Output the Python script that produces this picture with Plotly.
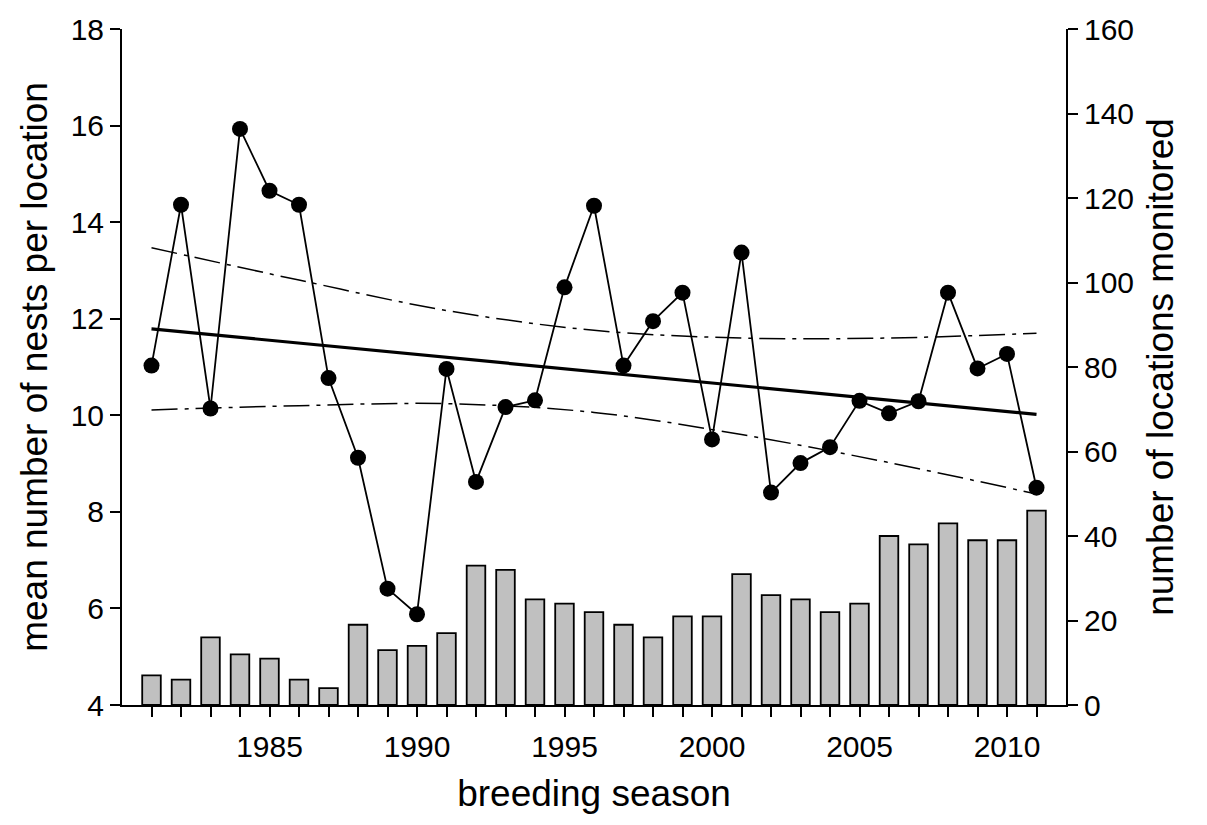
import plotly.graph_objects as go

years = list(range(1981, 2012))
locations = [7, 6, 16, 12, 11, 6, 4, 19, 13, 14, 17, 33, 32, 25, 24, 22, 19, 16, 21, 21,
             31, 26, 25, 22, 24, 40, 38, 43, 39, 39, 46]
nests = [11.03, 14.36, 10.14, 15.93, 14.65, 14.36, 10.77, 9.12, 6.41, 5.88, 10.96, 8.62,
         10.17, 10.31, 12.65, 14.34, 11.03, 11.95, 12.54, 9.50, 13.37, 8.40, 9.01, 9.34,
         10.30, 10.04, 10.29, 12.54, 10.97, 11.27, 8.50]
trend_years = [1981, 2011]
trend_vals = [11.79, 10.02]
band_years = [1981, 1986, 1991, 1996, 2001, 2006, 2011]
band_upper = [13.47, 12.80, 12.17, 11.76, 11.60, 11.60, 11.70]
band_lower = [10.11, 10.20, 10.24, 10.06, 9.60, 9.02, 8.37]
labelled_years = [1985, 1990, 1995, 2000, 2005, 2010]

FONT = "Liberation Sans, Arial, sans-serif"
TICK = 30
TITLE = 37

fig = go.Figure()
fig.add_trace(go.Bar(x=years, y=locations, yaxis="y", width=0.63,
                     marker=dict(color="#c0c0c0", line=dict(color="black", width=1.8)),
                     showlegend=False))
dash = "26px,7px,4px,7px"
fig.add_trace(go.Scatter(x=band_years, y=band_upper, yaxis="y2", mode="lines",
                         line=dict(color="black", width=1.5, dash=dash, shape="spline"),
                         showlegend=False))
fig.add_trace(go.Scatter(x=band_years, y=band_lower, yaxis="y2", mode="lines",
                         line=dict(color="black", width=1.5, dash=dash, shape="spline"),
                         showlegend=False))
fig.add_trace(go.Scatter(x=trend_years, y=trend_vals, yaxis="y2", mode="lines",
                         line=dict(color="black", width=3.2), showlegend=False))
fig.add_trace(go.Scatter(x=years, y=nests, yaxis="y2", mode="lines+markers",
                         line=dict(color="black", width=1.8),
                         marker=dict(color="black", size=16),
                         showlegend=False))

axis_common = dict(showgrid=False, zeroline=False, showline=True, linecolor="black",
                   linewidth=2, ticks="outside", ticklen=10, tickwidth=1.8,
                   tickcolor="black", tickfont=dict(size=TICK))

fig.update_layout(
    width=1207, height=825,
    margin=dict(l=122, r=141, t=26, b=120),
    paper_bgcolor="white", plot_bgcolor="white",
    font=dict(family=FONT, color="black", size=TICK),
    xaxis=dict(range=[1980, 2012], tickvals=years,
               ticktext=[str(y) if y in labelled_years else "" for y in years],
               ticklabelstandoff=4,
               title=dict(text="breeding season", font=dict(size=TITLE), standoff=18),
               **axis_common),
    yaxis=dict(range=[0, 160], side="right",
               tickvals=[0, 20, 40, 60, 80, 100, 120, 140, 160],
               title=dict(text="number of locations monitored", font=dict(size=TITLE), standoff=14),
               **axis_common),
    yaxis2=dict(range=[4, 18], side="left", overlaying="y",
                tickvals=[4, 6, 8, 10, 12, 14, 16, 18],
                title=dict(text="mean number of nests per location", font=dict(size=TITLE), standoff=12),
                **axis_common),
)

fig.write_html("out.html")
